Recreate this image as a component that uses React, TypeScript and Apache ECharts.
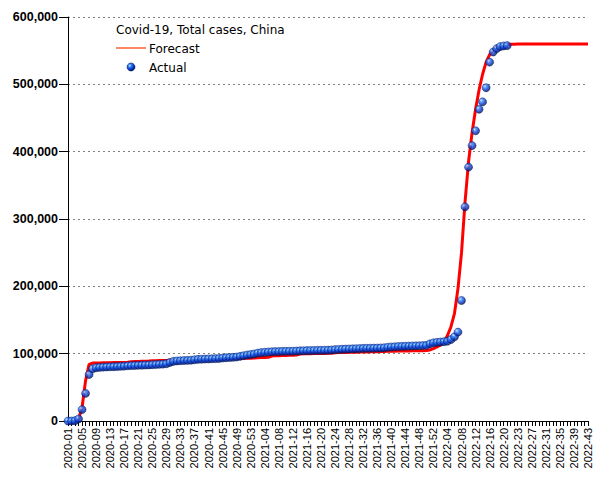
import React, { useEffect, useRef } from "react";
import * as echarts from "echarts";

// Week ranges used to build the category labels (year, first week, last week)
const categoryWeeks: [string, number, number][] = [
  ["2020", 1, 53],
  ["2021", 1, 52],
  ["2022", 1, 22],
  ["2022", 22, 43],
];

const categories: string[] = [];
categoryWeeks.forEach(([y, a, b]) => {
  for (let w = a; w <= b; w++) categories.push(`${y}-${String(w).padStart(2, "0")}`);
});

const yTicks = [0, 100000, 200000, 300000, 400000, 500000, 600000];

const titleText = "Covid-19, Total cases, China";
const seriesNames = ["Forecast", "Actual"];

// Actual total cases, one per week (2020-01 .. 2022-21)
const actual = [
  0, 0, 500, 3000, 17000, 41000, 69000, 77500, 79000, 79600,
  80000, 80300, 80500, 80700, 80900, 81200, 81500, 82000, 82300, 82500,
  82700, 82900, 83100, 83300, 83600, 83900, 84200, 84500, 85000, 87000,
  88500, 89200, 89500, 89800, 90000, 90300, 91000, 91500, 91800, 92000,
  92200, 92400, 92600, 92900, 93500, 94000, 94300, 94600, 95000, 96000,
  97000, 98000, 98800, 99500, 100800, 101500, 102000, 102500, 102900, 103100,
  103200, 103400, 103500, 103600, 103700, 103900, 104200, 104400, 104600, 104700,
  104800, 104900, 105000, 105100, 105200, 105500, 106000, 106300, 106600, 106800,
  107000, 107200, 107400, 107600, 107900, 108000, 108100, 108200, 108300, 108500,
  108800, 109500, 110000, 110300, 110600, 110800, 111000, 111200, 111400, 111600,
  111800, 112000, 112300, 114500, 116000, 116800, 117300, 117800, 118500, 121000,
  125000, 132000, 179000, 318000, 377000, 409000, 431000, 463000, 474000, 495000,
  533000, 548000, 553000, 556000, 557000, 557500,
];

// Forecast total cases, one per week (2020-01 .. 2022-43)
const forecast = [
  0, 0, 200, 3000, 20000, 60000, 84000, 86000, 86200, 86300,
  86400, 86500, 86600, 86700, 86800, 86900, 87000, 87200, 88000, 88200,
  88400, 88600, 88800, 89000, 89300, 89500, 89700, 89800, 90000, 90100,
  90200, 90300, 90400, 90500, 90600, 90700, 91000, 91100, 91200, 91300,
  91400, 91500, 91600, 91700, 92400, 92500, 92600, 92700, 92800, 93000,
  93100, 93200, 93300, 93400, 94000, 94200, 94400, 94600, 96500, 96800,
  97000, 97200, 97400, 97600, 97800, 98000, 99500, 99700, 99900, 100000,
  100100, 100200, 100300, 100400, 100500, 100700, 101500, 101700, 101800, 101900,
  102000, 102100, 102200, 102300, 102500, 102600, 102700, 102800, 103000, 103200,
  103400, 103500, 103600, 103700, 103800, 103900, 104000, 104100, 104200, 104300,
  104400, 104500, 104600, 105500, 107500, 110000, 112500, 117000, 127000, 140000,
  160000, 197000, 250000, 325000, 385000, 428000, 463000, 492000, 515000, 533000,
  544000, 551000, 555000, 557000, 558000, 559000, 559500, 559700, 559800, 559800,
  559800, 559800, 559800, 559800, 559800, 559800, 559800, 559800, 559800, 559800,
  559800, 559800, 559800, 559800, 559800, 559800, 559800, 559800, 559800,
];

const sphere = () =>
  new echarts.graphic.RadialGradient(0.35, 0.32, 0.7, [
    { offset: 0, color: "#d6eeff" },
    { offset: 0.25, color: "#3d8cff" },
    { offset: 0.65, color: "#0a3ad0" },
    { offset: 1, color: "#00124f" },
  ]);

export default function App() {
  const ref = useRef<HTMLDivElement>(null);
  useEffect(() => {
    if (!ref.current) return;
    const chart = echarts.init(ref.current, null, { renderer: "svg" });
    chart.setOption({
      animation: false,
      backgroundColor: "#ffffff",
      grid: { left: 68, right: 17, top: 17, bottom: 59, containLabel: false },
      xAxis: {
        type: "category",
        data: categories,
        boundaryGap: false,
        axisLine: { show: true, lineStyle: { color: "#000", width: 1 } },
        axisTick: { show: true, interval: 0, length: 5, lineStyle: { color: "#000" } },
        axisLabel: {
          interval: 3,
          rotate: 90,
          margin: 7,
          color: "#000",
          fontSize: 11,
          fontFamily: "Liberation Sans, Arial, sans-serif",
        },
        splitLine: { show: false },
      },
      yAxis: {
        type: "value",
        min: yTicks[0],
        max: yTicks[yTicks.length - 1],
        interval: 100000,
        axisLine: { show: true, lineStyle: { color: "#000", width: 1 } },
        axisTick: { show: true, length: 9, lineStyle: { color: "#000" } },
        axisLabel: {
          margin: 10,
          color: "#000",
          fontSize: 12.5,
          fontWeight: "bold",
          fontFamily: "Liberation Sans, Arial, sans-serif",
          formatter: (v: number) => v.toLocaleString("en-US"),
        },
        splitLine: {
          show: true,
          lineStyle: { color: "#808080", type: [2, 3], width: 1 },
        },
      },
      series: [
        {
          name: seriesNames[0],
          type: "line",
          data: forecast,
          symbol: "none",
          lineStyle: { color: "#ff0000", width: 3 },
          z: 2,
        },
        {
          name: seriesNames[1],
          type: "scatter",
          data: actual,
          symbol: "circle",
          symbolSize: 8,
          itemStyle: { color: sphere(), borderColor: "#001a66", borderWidth: 0.6 },
          z: 3,
        },
      ],
      graphic: [
        {
          type: "text",
          left: 116,
          top: 24,
          style: {
            text: titleText,
            fill: "#000",
            font: "12px 'DejaVu Sans', sans-serif",
          },
        },
        {
          type: "line",
          shape: { x1: 116, y1: 48, x2: 146, y2: 48 },
          style: { stroke: "#ff3300", lineWidth: 1.2 },
        },
        {
          type: "text",
          left: 149,
          top: 43,
          style: {
            text: seriesNames[0],
            fill: "#000",
            font: "12px 'DejaVu Sans', sans-serif",
          },
        },
        {
          type: "circle",
          shape: { cx: 131, cy: 67, r: 4 },
          style: { fill: sphere(), stroke: "#001a66", lineWidth: 0.6 },
        },
        {
          type: "text",
          left: 149,
          top: 62,
          style: {
            text: seriesNames[1],
            fill: "#000",
            font: "12px 'DejaVu Sans', sans-serif",
          },
        },
      ],
    });
    return () => chart.dispose();
  }, []);
  return <div ref={ref} style={{ width: 605, height: 480, position: "absolute", left: 0, top: 0 }} />;
}
